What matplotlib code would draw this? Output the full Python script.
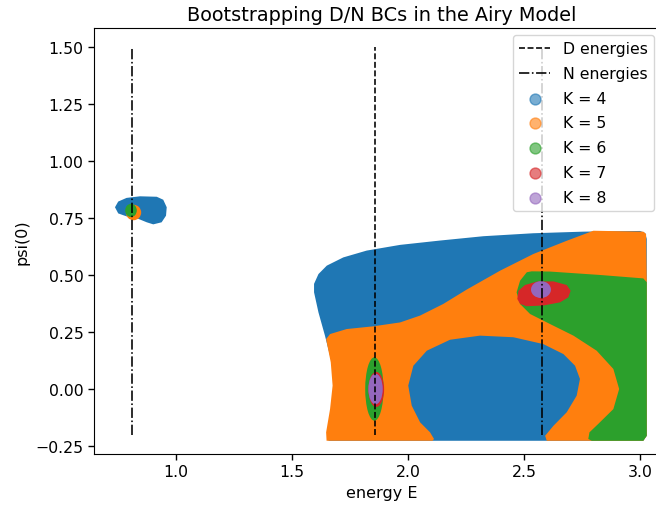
import matplotlib
matplotlib.use("Agg")
import matplotlib.pyplot as plt
from matplotlib.patches import Polygon, Ellipse

# ---- data ----
D_energies = [1.8557]
N_energies = [0.8086, 2.5781]
line_ymin, line_ymax = -0.2, 1.5

K_labels = ["K = 4", "K = 5", "K = 6", "K = 7", "K = 8"]
K_colors = ["#1f77b4", "#ff7f0e", "#2ca02c", "#d62728", "#9467bd"]

# allowed regions (outlines in E, psi(0))
K4_main_x = [1.657, 1.664, 1.678, 1.681, 1.671, 1.642, 1.614, 1.595, 1.595, 1.614, 1.650, 1.721,
             1.822, 1.966, 2.138, 2.325, 2.540, 2.756, 3.000, 3.022, 3.029, 3.029, 3.014]
K4_main_y = [-0.227, -0.161, -0.073, 0.015, 0.117, 0.234, 0.336, 0.424, 0.461, 0.504, 0.541, 0.577,
             0.607, 0.632, 0.651, 0.670, 0.683, 0.690, 0.693, 0.684, 0.658, -0.205, -0.227]
K4_small_x = [0.737, 0.751, 0.787, 0.845, 0.917, 0.945, 0.960, 0.957, 0.938, 0.902, 0.874, 0.838, 0.787, 0.751]
K4_small_y = [0.797, 0.822, 0.838, 0.845, 0.843, 0.830, 0.797, 0.760, 0.731, 0.722, 0.731, 0.746, 0.757, 0.770]

K5_main_x = [1.649, 1.647, 1.664, 1.675, 1.667, 1.647, 1.664, 1.736, 1.851, 1.966, 2.052, 2.152, 2.253,
             2.397, 2.540, 2.684, 2.799, 3.014, 3.026, 3.029, 3.029, 3.014, 2.598, 2.591, 2.627, 2.684,
             2.727, 2.741, 2.720, 2.670, 2.583, 2.454, 2.310, 2.181, 2.081, 2.023, 2.001, 2.016, 2.052,
             2.095, 2.112, 2.106]
K5_main_y = [-0.227, -0.190, -0.088, 0.015, 0.117, 0.219, 0.241, 0.263, 0.275, 0.292, 0.322, 0.373, 0.436,
             0.519, 0.592, 0.650, 0.694, 0.690, 0.680, 0.482, -0.205, -0.227, -0.227, -0.205, -0.161, -0.102,
             -0.029, 0.044, 0.102, 0.153, 0.197, 0.227, 0.234, 0.216, 0.168, 0.102, 0.015, -0.073, -0.146,
             -0.190, -0.219, -0.227]
K5_small = (0.817, 0.774, 0.066, 0.068)   # centre E, centre psi, width, height

K6_main_x = [2.512, 2.483, 2.468, 2.483, 2.526, 2.612, 2.713, 2.813, 2.885, 2.910, 2.885, 2.820, 2.782,
             2.777, 2.792, 3.014, 3.029, 3.029, 3.014, 2.828, 2.612, 2.533]
K6_main_y = [0.512, 0.475, 0.424, 0.373, 0.329, 0.285, 0.234, 0.168, 0.088, 0.000, -0.088, -0.153, -0.190,
             -0.219, -0.227, -0.227, -0.205, 0.468, 0.485, 0.500, 0.515, 0.516]
K6_D = (1.855, 0.000, 0.079, 0.278)
K6_small = (0.806, 0.783, 0.050, 0.058)

K7_main_x = [2.471, 2.476, 2.504, 2.555, 2.627, 2.684, 2.701, 2.691, 2.655, 2.583, 2.511, 2.483]
K7_main_y = [0.395, 0.431, 0.456, 0.471, 0.472, 0.456, 0.431, 0.402, 0.380, 0.366, 0.363, 0.373]
K7_D = (1.863, -0.002, 0.068, 0.154)

K8_N = (2.573, 0.436, 0.086, 0.074)
K8_D = (1.860, 0.000, 0.062, 0.134)

# ---- figure ----
W, H = 656, 510
fig = plt.figure(figsize=(W / 100, H / 100), dpi=100)
ax_left, ax_right, ax_top, ax_bottom = 94, 670.2, 29, 455
ax = fig.add_axes([ax_left / W, (H - ax_bottom) / H, (ax_right - ax_left) / W, (ax_bottom - ax_top) / H])
ax.set_xlim(0.6466, 3.13)
ax.set_ylim(-0.285, 1.583)


def poly(xs, ys, c):
    ax.add_patch(Polygon(list(zip(xs, ys)), closed=True, facecolor=c, edgecolor="none", zorder=1))


def ell(p, c):
    ax.add_patch(Ellipse((p[0], p[1]), p[2], p[3], facecolor=c, edgecolor="none", zorder=1))


poly(K4_main_x, K4_main_y, K_colors[0])
poly(K4_small_x, K4_small_y, K_colors[0])
poly(K5_main_x, K5_main_y, K_colors[1])
ell(K5_small, K_colors[1])
poly(K6_main_x, K6_main_y, K_colors[2])
ell(K6_D, K_colors[2])
ell(K6_small, K_colors[2])
poly(K7_main_x, K7_main_y, K_colors[3])
ell(K7_D, K_colors[3])
ell(K8_N, K_colors[4])
ell(K8_D, K_colors[4])

for i, e in enumerate(D_energies):
    ax.plot([e, e], [line_ymin, line_ymax], color="k", ls="--", lw=1.16,
            label="D energies" if i == 0 else None, zorder=2)
for i, e in enumerate(N_energies):
    ax.plot([e, e], [line_ymin, line_ymax], color="k", ls="-.", lw=1.16,
            label="N energies" if i == 0 else None, zorder=2)

for lab, c in zip(K_labels, K_colors):
    ax.scatter([], [], color=c, alpha=0.6, s=62, label=lab)

ax.set_title("Bootstrapping D/N BCs in the Airy Model", fontsize=13.9)
ax.set_xlabel("energy E", fontsize=11.5)
ax.set_ylabel("psi(0)", fontsize=11.5)
ax.tick_params(labelsize=11.3, width=1.0, length=4.0)
ax.set_xticks([1.0, 1.5, 2.0, 2.5, 3.0])
ax.set_yticks([-0.25, 0.0, 0.25, 0.5, 0.75, 1.0, 1.25, 1.5])

ax.legend(loc="upper right", bbox_to_anchor=(654 / W, 1 - 36 / H), bbox_transform=fig.transFigure,
          borderaxespad=0, fontsize=11.3, labelspacing=0.62)

fig.savefig("out.png", dpi=100)
